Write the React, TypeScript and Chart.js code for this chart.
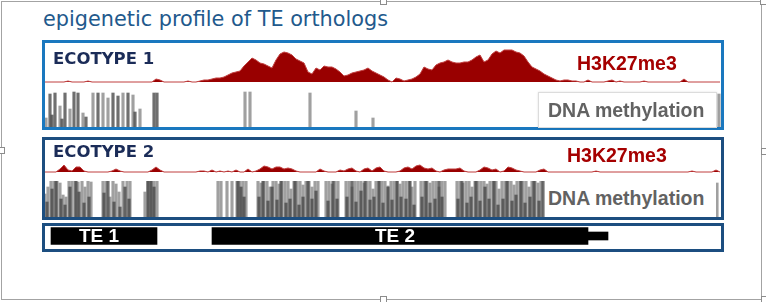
import React, { useEffect, useRef } from "react";
import { Chart, registerables } from "chart.js";

Chart.register(...registerables);

// ---- data -------------------------------------------------------------
// genomic axis: relative position units (0..SPAN), H3K27me3 in bins of BIN units
const SPAN = 677;
const BIN = 4;

// H3K27me3 signal, ecotype 1 (one value per bin)
const e1H3K27 = [
  0, 0, 0, 0, 0, 0, 1, 0, 0, 0,
  0, 1, 0, 0, 0, 0, 0, 0, 0, 0,
  0, 0, 0, 0, 0, 0, 0, 0, 3, 2,
  0, 0, 0, 0, 0, 0, 1, 0, 0, 1,
  2, 2, 3, 4, 4, 5, 7, 9, 10, 11,
  16, 20, 24, 22, 19, 18, 16, 14, 22, 28,
  30, 29, 27, 23, 21, 19, 10, 8, 14, 12,
  16, 15, 15, 13, 10, 6, 7, 9, 10, 11,
  12, 14, 11, 9, 7, 5, 2, 0, 4, 3,
  1, 2, 3, 5, 8, 15, 13, 12, 17, 19,
  20, 22, 20, 19, 19, 20, 20, 22, 25, 27,
  20, 22, 28, 31, 29, 32, 32, 32, 30, 29,
  26, 20, 15, 13, 11, 8, 6, 4, 2, 1,
  2, 2, 1, 1, 0, 0, 2, 0, 0, 0,
  0, 1, 2, 0, 1, 0, 0, 0, 0, 0,
  1, 0, 0, 0, 0, 0, 0, 0, 0, 0,
  3, 0, 0, 0, 0, 0, 0, 0, 0, 0,
];

// H3K27me3 signal, ecotype 2
const e2H3K27 = [
  0, 0, 0, 0, 3, 7, 2, 1, 5, 5,
  1, 0, 0, 0, 0, 0, 0, 1, 3, 1,
  0, 0, 0, 0, 0, 0, 0, 2, 5, 2,
  0, 0, 0, 0, 0, 0, 0, 0, 0, 1,
  1, 0, 2, 0, 1, 0, 1, 0, 2, 0,
  0, 3, 0, 1, 3, 6, 5, 3, 5, 5,
  3, 4, 3, 1, 0, 0, 0, 0, 0, 3,
  1, 0, 0, 0, 2, 1, 3, 4, 1, 0,
  3, 4, 1, 4, 5, 1, 0, 0, 0, 1,
  4, 5, 3, 6, 7, 4, 3, 4, 1, 0,
  2, 3, 3, 3, 4, 1, 0, 0, 0, 2,
  5, 4, 2, 3, 0, 1, 5, 4, 2, 1,
  0, 0, 0, 0, 2, 3, 0, 0, 0, 0,
  0, 0, 0, 0, 0, 0, 0, 0, 1, 0,
  0, 0, 0, 0, 0, 0, 0, 0, 0, 0,
  0, 0, 0, 0, 0, 0, 0, 0, 0, 0,
  0, 0, 1, 0, 0, 0, 0, 0, 2, 0,
];

// DNA methylation, ecotype 1 (light = non-CG context, dark = CG context)
const e1LightPos = [2, 16, 26, 39, 49, 59, 64, 79, 89, 96, 201, 206, 266, 312, 329, 675];
const e1LightLvl = [9, 21, 18, 14, 34, 34, 29, 34, 32, 18, 35, 35, 34, 16, 9, 33];
const e1DarkPos = [6, 8, 11, 18, 21, 30, 34, 42, 54, 69, 74, 84, 91, 110, 113];
const e1DarkLvl = [33, 12, 34, 8, 34, 35, 34, 10, 34, 34, 31, 34, 15, 34, 34];

// DNA methylation, ecotype 2
const e2LightPos = [
  1, 4, 7, 10, 13, 16, 19, 22, 25, 28, 31, 34, 38, 41, 44, 47,
  59, 62, 66, 69, 72, 75, 79, 83, 86,
  101, 104, 107, 110, 113,
  174, 177, 183, 188, 193, 196, 199, 202,
  214, 217, 220, 223, 226, 229, 232, 235, 238, 241, 244, 247, 250, 253, 256, 259, 262, 265, 268, 271, 274,
  282, 285, 288, 291, 294, 302, 305, 308, 311, 314, 317, 320, 323, 326, 329, 332, 335, 338, 341, 344,
  347, 350, 353, 356, 359, 362, 365, 368, 371, 377, 380, 383, 386, 389, 392, 395, 398, 401,
  413, 416, 419, 422, 425, 428, 431, 434, 437, 440, 443, 446, 449, 452, 455, 458, 461, 464, 467, 470,
  473, 476, 479, 482, 485, 488, 491, 494, 497, 673,
];
const e2LightLvl = [
  23, 30, 36, 36, 36, 34, 22, 20, 36, 36, 36, 35, 36, 30, 36, 35,
  36, 36, 20, 36, 33, 25, 36, 36, 36,
  25, 36, 36, 36, 36,
  36, 36, 36, 36, 36, 36, 36, 36,
  36, 34, 36, 36, 30, 36, 36, 33, 36, 36, 36, 28, 36, 36, 36, 32, 36, 36, 30, 36, 36,
  36, 36, 33, 36, 36, 36, 36, 30, 36, 36, 36, 34, 36, 36, 28, 36, 36, 36, 36, 31,
  36, 36, 36, 33, 36, 36, 36, 30, 36, 36, 36, 36, 34, 36, 36, 30, 36, 36,
  36, 36, 34, 36, 36, 30, 36, 36, 36, 36, 33, 36, 36, 36, 28, 36, 36, 36, 36, 32,
  36, 36, 36, 36, 30, 36, 36, 34, 36, 34,
];
const e2DarkPos = [
  3, 8, 12, 17, 21, 26, 32, 35, 40, 45,
  60, 64, 70, 76, 81, 85,
  104, 107, 110,
  194, 197, 200,
  215, 219, 224, 228, 233, 237, 242, 246, 251, 255, 259, 264, 268, 272,
  284, 289, 293, 303, 308, 312, 317, 321, 326, 330, 335, 339, 344, 348, 353, 357, 362, 366, 370, 378, 382, 386, 391, 395, 398,
  414, 418, 423, 427, 432, 436, 441, 445, 450, 454, 459, 463, 468, 472, 477, 481, 486, 490, 495, 499,
];
const e2DarkLvl = [
  15, 28, 36, 18, 12, 30, 36, 25, 14, 20,
  24, 36, 15, 10, 30, 18,
  36, 36, 30,
  36, 30, 20,
  20, 36, 16, 30, 17, 36, 14, 18, 36, 12, 20, 36, 18, 26,
  16, 36, 18, 20, 36, 15, 26, 36, 17, 20, 36, 14, 30, 17, 36, 20, 18, 36, 12, 20, 36, 14, 18, 36, 20,
  18, 36, 14, 20, 36, 16, 30, 18, 36, 12, 18, 36, 16, 22, 36, 14, 20, 36, 16, 36,
];

// TE annotation
const teNames = ["TE 1", "TE 2"];
const teStart = [7, 168];
const teEnd = [113, 544];
const fragStart = [544];
const fragEnd = [564];

// ---- helpers -------------------------------------------------------------
const baseOptions = (ymin: number, ymax: number): any => ({
  responsive: false,
  maintainAspectRatio: false,
  animation: false,
  devicePixelRatio: 1,
  layout: { padding: 0 },
  events: [],
  plugins: { legend: { display: false }, tooltip: { enabled: false }, title: { display: false } },
  scales: {
    x: { type: "linear", min: 0, max: SPAN, display: false, offset: false },
    y: { type: "linear", min: ymin, max: ymax, display: false },
  },
});

const profileConfig = (vals: number[], ymin: number, ymax: number): any => ({
  type: "line",
  data: {
    datasets: [
      {
        data: vals.map((v, i) => ({ x: i * BIN, y: v })),
        borderColor: "rgb(192,62,62)",
        borderWidth: 1,
        backgroundColor: "#990000",
        fill: "origin",
        pointRadius: 0,
        tension: 0,
      },
    ],
  },
  options: baseOptions(ymin, ymax),
});

const methConfig = (lp: number[], ll: number[], dp: number[], dl: number[]): any => ({
  type: "bar",
  data: {
    datasets: [
      {
        data: lp.map((p, i) => ({ x: p, y: ll[i] ?? 0 })),
        backgroundColor: "rgba(150,150,150,0.9)",
        barThickness: 2.5,
        grouped: false,
        order: 2,
      },
      {
        data: dp.map((p, i) => ({ x: p, y: dl[i] ?? 0 })),
        backgroundColor: "rgba(70,70,70,0.78)",
        barThickness: 2.5,
        grouped: false,
        order: 1,
      },
    ],
  },
  options: baseOptions(0, 36),
});

const teLabelPlugin = {
  id: "teLabels",
  afterDatasetsDraw(chart: any) {
    const ctx = chart.ctx;
    ctx.save();
    ctx.fillStyle = "#ffffff";
    ctx.font = 'bold 19px "Liberation Sans", Arial, sans-serif';
    ctx.textAlign = "center";
    ctx.textBaseline = "middle";
    chart.data.datasets.forEach((ds: any, di: number) => {
      if (!ds.label) return;
      const el = chart.getDatasetMeta(di).data[0];
      if (!el) return;
      ctx.fillText(ds.label, (el.x + el.base) / 2 - 5, el.y + 0.5);
    });
    ctx.restore();
  },
};

const teConfig = (): any => {
  const o = baseOptions(0, 1);
  o.indexAxis = "y";
  o.scales = {
    x: { type: "linear", min: 0, max: SPAN, display: false, offset: false },
    y: { type: "category", display: false },
  };
  return {
    type: "bar",
    data: {
      labels: ["TE"],
      datasets: [
        ...teNames.map((n, i) => ({
          label: n,
          data: [[teStart[i], teEnd[i]]],
          backgroundColor: "#000000",
          barThickness: 17,
          grouped: false,
        })),
        ...fragStart.map((s, i) => ({
          label: "",
          data: [[s, fragEnd[i]]],
          backgroundColor: "#000000",
          barThickness: 8,
          grouped: false,
        })),
      ],
    },
    options: o,
    plugins: [teLabelPlugin],
  };
};

function ChartCanvas({ left, top, width, height, make }: any) {
  const ref = useRef<HTMLCanvasElement>(null);
  useEffect(() => {
    const chart = new Chart(ref.current as HTMLCanvasElement, make());
    return () => chart.destroy();
  }, []);
  return (
    <canvas
      ref={ref}
      width={width}
      height={height}
      style={{ position: "absolute", left, top, width, height }}
    />
  );
}

const abs = (s: any): any => ({ position: "absolute", boxSizing: "border-box", ...s });

const ecoStyle = {
  fontFamily: '"DejaVu Sans", sans-serif',
  fontWeight: 700,
  fontSize: "16.5px",
  lineHeight: "16.5px",
  color: "#1b2c58",
  whiteSpace: "nowrap",
};
const h3Style = {
  fontFamily: '"Liberation Sans", Arial, sans-serif',
  fontWeight: 700,
  fontSize: "19.5px",
  lineHeight: "19.5px",
  color: "#a50000",
  whiteSpace: "nowrap",
};
const dnaStyle = {
  fontFamily: '"Liberation Sans", Arial, sans-serif',
  fontWeight: 700,
  fontSize: "19.5px",
  lineHeight: "19.5px",
  color: "#626262",
  whiteSpace: "nowrap",
};

const handles = [
  [383, 1],
  [763, 1],
  [1, 150],
  [764, 151],
  [383, 299],
  [764, 299],
];

export default function App() {
  return (
    <div style={{ position: "fixed", left: 0, top: 0, width: 766, height: 302, background: "#fff", overflow: "hidden" }}>
      {/* outer frame */}
      <div style={abs({ left: 1, top: 1, width: 761, height: 299, border: "1px solid #a3a3a3" })} />

      {/* title */}
      <div
        style={abs({
          left: 43,
          top: 9,
          fontFamily: '"DejaVu Sans", sans-serif',
          fontSize: "20.8px",
          lineHeight: "20.8px",
          color: "#22598c",
          whiteSpace: "nowrap",
        })}
      >
        epigenetic profile of TE orthologs
      </div>

      {/* charts */}
      <ChartCanvas left={44} top={46} width={677} height={38} make={() => profileConfig(e1H3K27, -2, 36)} />
      <ChartCanvas left={44} top={91} width={677} height={36} make={() => methConfig(e1LightPos, e1LightLvl, e1DarkPos, e1DarkLvl)} />
      <ChartCanvas left={44} top={148} width={677} height={26} make={() => profileConfig(e2H3K27, -2, 24)} />
      <ChartCanvas left={44} top={181} width={677} height={36} make={() => methConfig(e2LightPos, e2LightLvl, e2DarkPos, e2DarkLvl)} />
      <ChartCanvas left={44} top={227} width={677} height={18} make={teConfig} />

      {/* track boxes */}
      <div style={abs({ left: 42, top: 40, width: 682, height: 90, border: "3px solid #1a78bf" })} />
      <div style={abs({ left: 42, top: 137, width: 682, height: 83, border: "3px solid #1c4e80" })} />
      <div style={abs({ left: 42, top: 223, width: 682, height: 29, border: "3px solid #1c4e80" })} />

      {/* labels, ecotype 1 */}
      <div style={abs({ left: 53, top: 51, ...ecoStyle })}>ECOTYPE 1</div>
      <div style={abs({ left: 577, top: 54, ...h3Style })}>H3K27me3</div>
      <div
        style={abs({
          left: 538,
          top: 92,
          width: 179,
          height: 36,
          background: "#fff",
          border: "1px solid #dcdcdc",
          boxShadow: "0 0 2px rgba(0,0,0,0.12)",
        })}
      />
      <div style={abs({ left: 548, top: 100.5, ...dnaStyle })}>DNA methylation</div>

      {/* labels, ecotype 2 */}
      <div style={abs({ left: 53, top: 144, ...ecoStyle })}>ECOTYPE 2</div>
      <div style={abs({ left: 567, top: 146, ...h3Style })}>H3K27me3</div>
      <div style={abs({ left: 547, top: 181, width: 169, height: 36, background: "#fff" })} />
      <div style={abs({ left: 548, top: 188.5, ...dnaStyle })}>DNA methylation</div>

      {/* selection handles */}
      {handles.map(([cx, cy], i) => (
        <div
          key={i}
          style={abs({ left: cx - 3.5, top: cy - 3.5, width: 7, height: 7, background: "#fff", border: "1px solid #8c8c8c" })}
        />
      ))}
    </div>
  );
}
